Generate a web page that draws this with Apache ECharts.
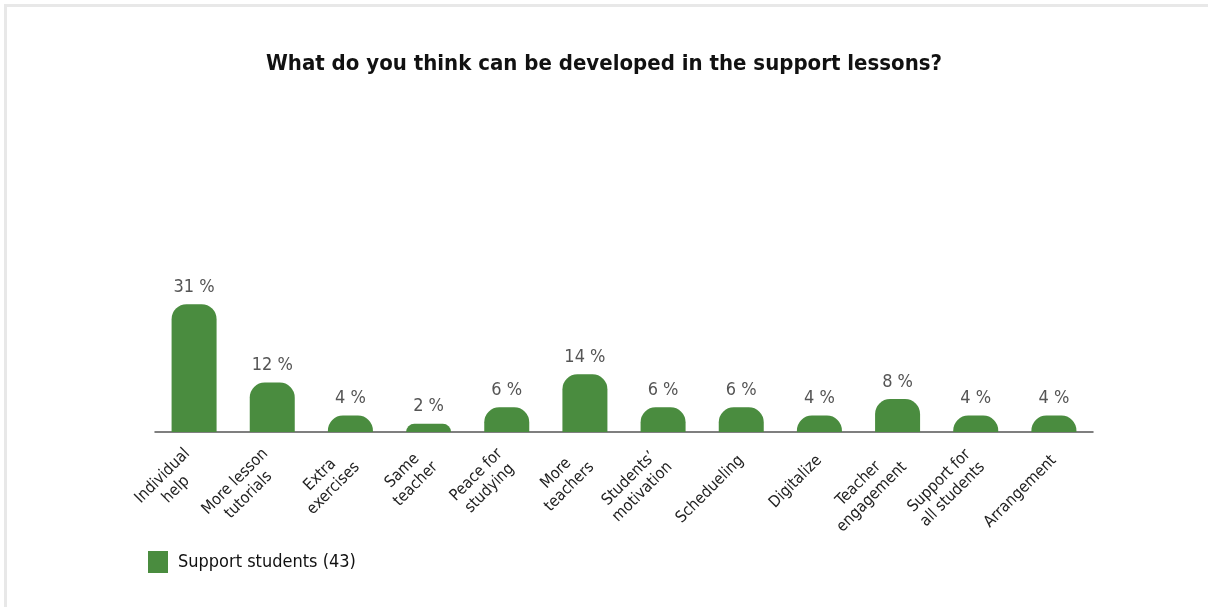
<!DOCTYPE html>
<html>
<head>
<meta charset="utf-8">
<style>
  html, body { margin: 0; padding: 0; background: #ffffff; }
  #frame { position: absolute; left: 4px; top: 4px; width: 1204px; height: 603px;
           border-left: 3px solid #e8e8e8; border-top: 3px solid #e8e8e8; box-sizing: border-box; }
  #chart { position: absolute; left: 0; top: 0; width: 1208px; height: 607px; }
</style>
<script src="https://cdn.jsdelivr.net/npm/echarts@6/dist/echarts.min.js"></script>
</head>
<body>
<div id="frame"></div>
<div id="chart"></div>
<script>
// Survey answers: what could be developed in the support lessons
const categories = [
  'Individual\nhelp', 'More lesson\ntutorials', 'Extra\nexercises', 'Same\nteacher',
  'Peace for\nstudying', 'More\nteachers', 'Students\u2019\nmotivation', 'Schedueling',
  'Digitalize', 'Teacher\nengagement', 'Support for\nall students', 'Arrangement'
];
const shares = [31, 12, 4, 2, 6, 14, 6, 6, 4, 8, 4, 4];
const seriesName = 'Support students (43)';
const chartTitle = 'What do you think can be developed in the support lessons?';

const narrow = "'DejaVu Sans Condensed', 'Liberation Sans Narrow', 'Noto Sans', sans-serif";
const green = '#4a8c3f';

const chart = echarts.init(document.getElementById('chart'), null, { renderer: 'canvas' });
chart.setOption({
  animation: false,
  title: {
    text: chartTitle,
    left: 'center',
    top: 48,
    textStyle: { fontFamily: narrow, fontSize: 22, fontWeight: 'bold', color: '#111' }
  },
  legend: {
    left: 148,
    top: 551,
    padding: 0,
    itemWidth: 20,
    itemHeight: 22,
    itemGap: 10,
    icon: 'rect',
    textStyle: { fontFamily: narrow, fontSize: 18, color: '#111', padding: [0, 0, 0, 5] },
    data: [seriesName]
  },
  grid: { left: 155, right: 115, top: 102, bottom: 175, containLabel: false },
  xAxis: {
    type: 'category',
    data: categories,
    axisLine: { show: true, lineStyle: { color: '#555', width: 1.5 } },
    axisTick: { show: false },
    axisLabel: {
      interval: 0,
      rotate: 45,
      margin: 26,
      align: 'right',
      color: '#222',
      fontFamily: narrow,
      fontSize: 16,
      lineHeight: 19,
      // each line centred under the longest one
      formatter: (v) => v.split('\n').map((s) => '{c|' + s + '}').join('\n'),
      rich: {
        c: { align: 'center', fontFamily: narrow, fontSize: 16, lineHeight: 19, color: '#222' }
      }
    }
  },
  yAxis: {
    type: 'value',
    min: 0,
    max: 80,
    show: false,
    splitLine: { show: false }
  },
  series: [{
    name: seriesName,
    type: 'bar',
    data: shares,
    barWidth: 45,
    itemStyle: { color: green, borderRadius: [15, 15, 0, 0] },
    label: {
      show: true,
      position: 'top',
      distance: 8,
      formatter: '{c} %',
      fontFamily: narrow,
      fontSize: 18,
      color: '#555'
    }
  }]
});
</script>
</body>
</html>
